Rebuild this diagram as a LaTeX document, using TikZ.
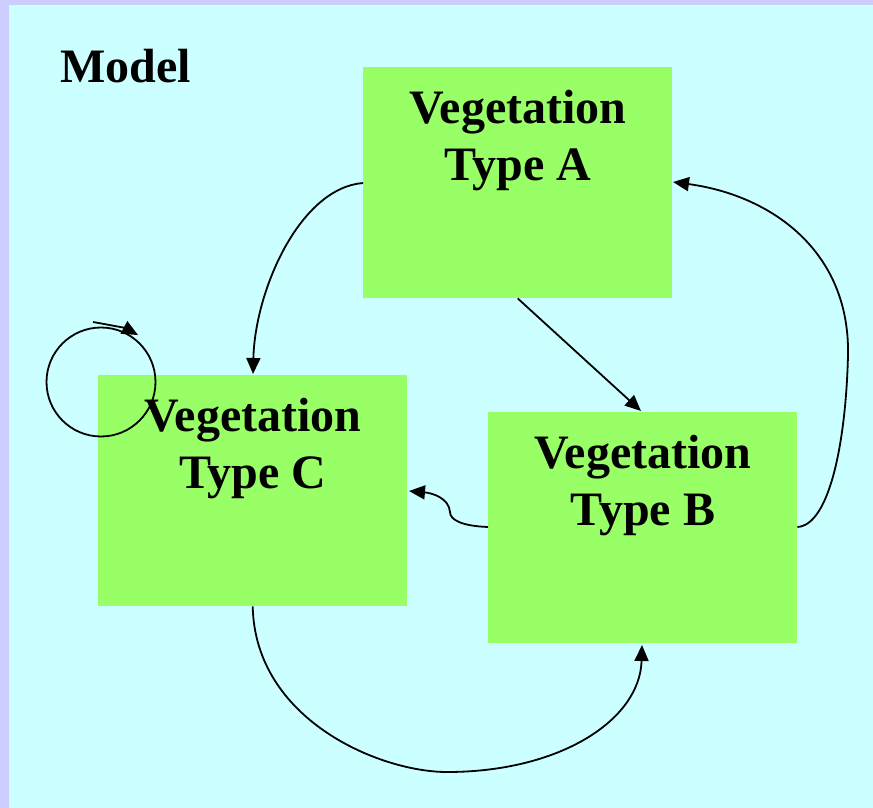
\documentclass[tikz,border=0pt]{standalone}
\usepackage{fontspec}
\setmainfont{Liberation Serif}
\usetikzlibrary{arrows.meta}
\definecolor{frame}{HTML}{CCCCFF}
\definecolor{bg}{HTML}{CCFFFF}
\definecolor{veg}{HTML}{99FF66}
\begin{document}
\begin{tikzpicture}[x=1pt,y=-1pt,
  vegbox/.style={fill=veg,draw=none,minimum width=309pt,minimum height=231pt,inner sep=0pt,anchor=north west},
  lbl/.style={font=\fontsize{48}{57}\selectfont\bfseries,anchor=base,inner sep=0pt},
  conn/.style={line width=1.8pt,-{Triangle[length=16pt,width=14pt]}},
  plain/.style={line width=1.8pt}]
\useasboundingbox (0,0) rectangle (873,808);
\fill[frame] (0,0) rectangle (873,808);
\fill[bg] (9,5) rectangle (873,808);
\node[lbl,anchor=base west] (model) at (60,83) {Model};
\node[vegbox] (A) at (363,67) {};
\node[vegbox] (C) at (98,375) {};
\node[vegbox] (B) at (488,412) {};
\node[lbl] (A1) at (518,123) {Vegetation};
\node[lbl] (A2) at (518,180) {Type A};
\node[lbl] (C1) at (253,431) {Vegetation};
\node[lbl] (C2) at (253,488) {Type C};
\node[lbl] (B1) at (643,468) {Vegetation};
\node[lbl] (B2) at (643,525) {Type B};
% A -> C
\draw[conn] (A.west |- 0,183) .. controls (300,188) and (255,290) .. (253,374);
% A -> B
\draw[conn] (A.south) -- (641,411);
% B -> A
\draw[conn] (B.east |- 0,527) .. controls (830,525) and (846,440) .. (848,355)
  .. controls (850,250) and (770,195) .. (673,182);
% B -> C
\draw[conn] (B.west |- 0,527) .. controls (462,526) and (450,520) .. (450,512)
  .. controls (449,498) and (432,493) .. (409,491);
% C -> B
\draw[conn] (C.south) .. controls (255,720) and (380,772) .. (447,772)
  .. controls (560,772) and (640,720) .. (642,645);
% self loop on C
\coordinate (loopc) at (101,382);
\draw[plain] (loopc) circle (54.5);
\coordinate (loopt) at (93,322);
\coordinate (looph) at (138,335);
\draw[conn] (loopt) .. controls (110,325) and (125,328) .. (looph);
\end{tikzpicture}
\end{document}
